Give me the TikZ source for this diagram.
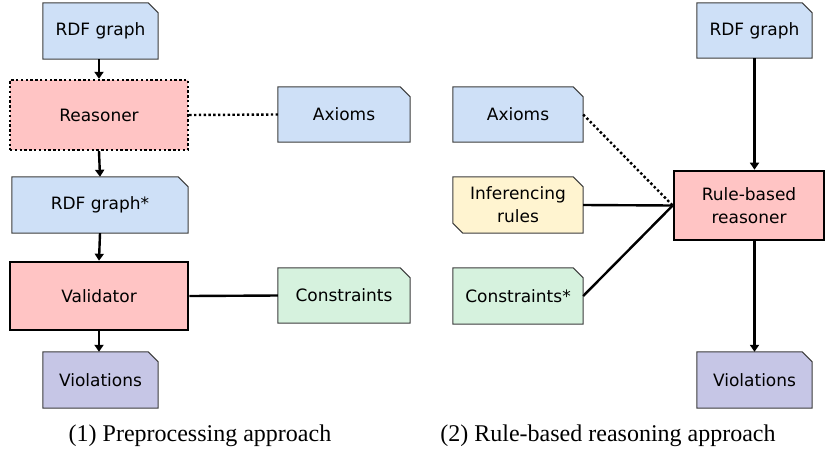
\documentclass[tikz,border=0pt]{standalone}
\usepackage{fontspec}
\setmainfont{Liberation Serif}
\newfontfamily\boxfont{DejaVu Sans}
\usetikzlibrary{arrows.meta,backgrounds}
\definecolor{docblue}{RGB}{206,224,247}
\definecolor{docgreen}{RGB}{214,242,222}
\definecolor{docyellow}{RGB}{255,244,208}
\definecolor{docpurple}{RGB}{198,198,230}
\definecolor{procpink}{RGB}{255,196,196}
\definecolor{docedge}{RGB}{60,60,60}
\tikzset{
  box/.style={rectangle, inner sep=0pt, align=center,
    font=\boxfont\fontsize{17}{23}\selectfont},
  procbox/.style={box, fill=procpink, draw=black, line width=2.6pt},
  dotbox/.style={box, fill=procpink, draw=black, line width=2.4pt, dash pattern=on 2.4pt off 2.4pt},
  conn/.style={line width=2.4pt, draw=black},
  dotconn/.style={conn, dash pattern=on 2.4pt off 2.4pt},
  arr/.style={conn, -{Triangle[width=9pt,length=7pt]}},
  docline/.style={draw=docedge, line width=1pt},
  caption/.style={font=\fontsize{24}{28}\selectfont, inner sep=0pt},
}
\newcommand\docpath[2]{%
  \begin{scope}[on background layer]
    \filldraw[docline, fill=#2] (#1.south west) -- (#1.north west)
      -- ([xshift=-10pt]#1.north east) -- ([yshift=-10pt]#1.north east)
      -- (#1.south east) -- cycle;
  \end{scope}}
\newcommand\docpathtwo[2]{%
  \begin{scope}[on background layer]
    \filldraw[docline, fill=#2] ([yshift=10pt]#1.south west) -- (#1.north west)
      -- ([xshift=-10pt]#1.north east) -- ([yshift=-10pt]#1.north east)
      -- (#1.south east) -- ([xshift=10pt]#1.south west) -- cycle;
  \end{scope}}
\begin{document}
\begin{tikzpicture}[x=1pt, y=-1pt]
\useasboundingbox (0,0) rectangle (826,458);
% left diagram
\node[box, minimum width=115pt, minimum height=56pt] (rdf1) at (100.5,31) {RDF graph};
\node[dotbox, minimum width=178pt, minimum height=70pt] (reas) at (99,115) {Reasoner};
\node[box, minimum width=132pt, minimum height=55pt] (ax1) at (344,114.5) {Axioms};
\node[box, minimum width=176pt, minimum height=56pt] (rdfs) at (100,205) {RDF graph*};
\node[procbox, minimum width=178pt, minimum height=68pt] (val) at (99,296) {Validator};
\node[box, minimum width=132pt, minimum height=55pt] (con1) at (344,295.5) {Constraints};
\node[box, minimum width=115pt, minimum height=56pt] (vio1) at (100.5,380) {Violations};
\docpath{rdf1}{docblue}
\docpath{ax1}{docblue}
\docpath{rdfs}{docblue}
\docpath{con1}{docgreen}
\docpath{vio1}{docpurple}
\draw[arr] (rdf1.south -| reas.north) -- (reas.north);
\draw[arr] (reas.south) -- (rdfs.north);
\draw[arr] (rdfs.south) -- (val.north);
\draw[arr] (val.south) -- (val.south |- vio1.north);
\draw[dotconn] (reas.east) -- (ax1.west);
\draw[conn] (val.east) -- (con1.west);
% right diagram
\node[box, minimum width=115pt, minimum height=55pt] (rdf2) at (754.5,30.5) {RDF graph};
\node[box, minimum width=130pt, minimum height=55pt] (ax2) at (518,114.5) {Axioms};
\node[box, minimum width=130pt, minimum height=56pt] (inf) at (518,205) {Inferencing\\rules};
\node[box, minimum width=130pt, minimum height=56pt] (con2) at (518,296) {Constraints*};
\node[procbox, minimum width=150pt, minimum height=69pt] (rbr) at (749,205.5) {Rule-based\\reasoner};
\node[box, minimum width=115pt, minimum height=56pt] (vio2) at (754.5,380) {Violations};
\docpath{rdf2}{docblue}
\docpath{ax2}{docblue}
\docpathtwo{inf}{docyellow}
\docpath{con2}{docgreen}
\docpath{vio2}{docpurple}
\draw[arr] (rdf2.south) -- (rdf2.south |- rbr.north);
\draw[arr] (rbr.south -| vio2.north) -- (vio2.north);
\draw[dotconn] (ax2.east) -- (rbr.west);
\draw[conn] (inf.east) -- (rbr.west);
\draw[conn] (con2.east) -- (rbr.west);
% captions
\node[caption] (cap1) at (200,436) {(1) Preprocessing approach};
\node[caption] (cap2) at (608,436) {(2) Rule-based reasoning approach};
\end{tikzpicture}
\end{document}
